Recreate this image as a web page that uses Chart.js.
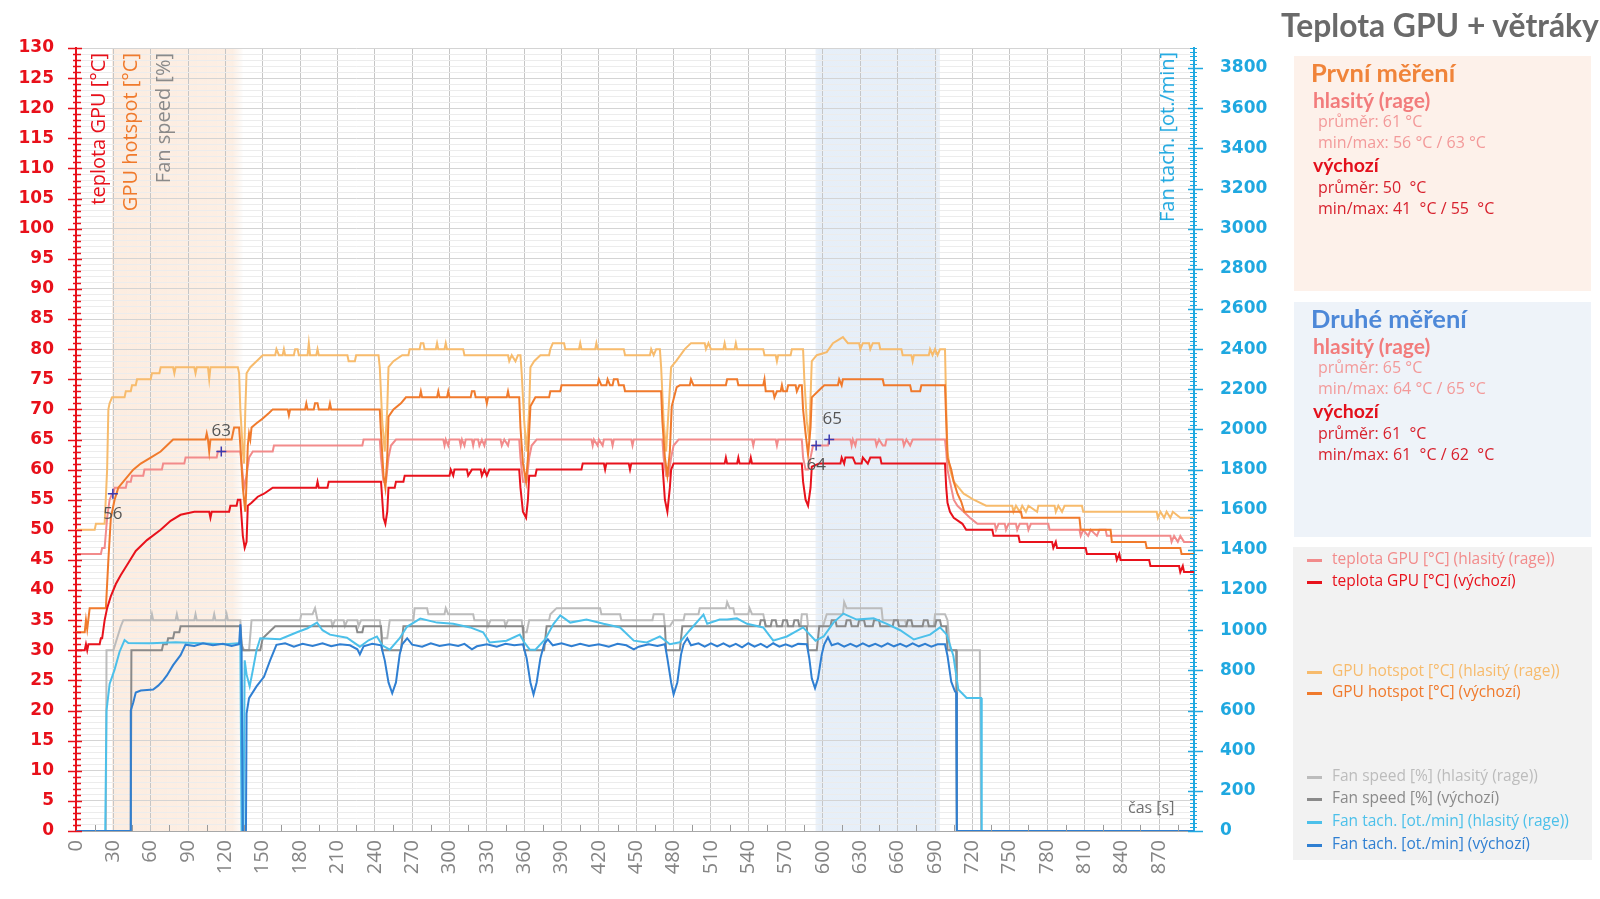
<!DOCTYPE html>
<html>
<head>
<meta charset="utf-8">
<script src="https://cdn.jsdelivr.net/npm/chart.js@4.4.0/dist/chart.umd.min.js"></script>
<style>
  body { margin: 0; background: #fff; }
  #wrap { position: relative; width: 1600px; height: 899px; overflow: hidden; }
  #c { position: absolute; left: 0; top: 0; }
  .t { position: absolute; white-space: pre; line-height: 1; font-family: Lato, "Open Sans", sans-serif; }
  .vt { position: absolute; white-space: nowrap; line-height: 1; writing-mode: vertical-rl; transform: rotate(180deg); font-family: "Open Sans", sans-serif; }
  .box { position: absolute; }
  .sw { position: absolute; height: 3px; width: 15px; }
</style>
</head>
<body>
<div id="wrap">
  <canvas id="c" width="1600" height="899"></canvas>
</div>
<script>
  // time axis [s]
  const timeMax = 898;
  const firstWindow = [29, 134];
  const secondWindow = [594, 694];

  // teplota GPU [°C] (hlasitý (rage)) — [t, °C]
  const tempRage = [
    [0,46],[20,46],[21,47],[23,47],[25,52],[27,55],[29,56],[30,56],[31,57],[40,57],[41,58],[44,58],[45,59],[54,59],[55,60],[69,60],[70,61],[87,61],[88,62],[113,62],[114,63],[132,63],
    [133,61],[135,57],[137,59],[139,62],[142,63],[158,63],[159,64],[230,64],[231,65],[244,65],
    [245,62],[247,58],[249,58],[251,62],[253,64],[257,65],[295,65],[296,64],[297,65],[299,64],[300,65],[308,65],[309,64],[310,65],[312,64],[313,65],[318,65],[319,64],[320,65],[323,65],[324,64],[326,65],[328,64],[329,65],[341,65],[342,64],[344,65],[347,64],[348,65],[356,65],
    [357,62],[359,58],[362,58],[364,62],[366,64],[370,65],[414,65],[415,64],[416,65],[419,64],[420,65],[423,64],[424,65],[430,65],[431,64],[432,65],[446,65],[447,64],[448,65],[471,65],
    [472,62],[474,59],[476,59],[478,62],[480,64],[484,65],[543,65],[544,64],[545,65],[562,65],[563,64],[564,65],[583,65],
    [584,62],[586,60],[588,60],[590,62],[592,64],[604,64],[605,65],[622,65],[623,64],[624,65],[626,64],[627,65],[642,65],[643,64],[645,65],[648,64],[650,64],[651,65],[664,65],[665,64],[667,65],[670,64],[672,65],[698,65],
    [699,63],[700,60],[702,58],[705,55],[708,54],[713,53],[718,52],[724,51],[738,51],[739,50],[741,51],[746,51],[747,50],[749,51],[755,51],[756,50],[758,51],[764,51],[765,50],[767,51],[781,51],[782,50],[806,50],[807,49],[809,50],[813,49],[815,50],[820,49],[822,50],[827,50],[828,49],[879,49],[880,48],[882,49],[885,48],[887,49],[890,48],[898,48]
  ];

  // teplota GPU [°C] (výchozí)
  const tempDefault = [
    [0,30],[7,30],[8,31],[9,30],[10,31],[19,31],[20,32],[21,32],[23,35],[25,37],[28,39],[32,41],[36,42.5],[42,44.5],[48,46.5],[57,48.3],[68,50],[76,51.5],[84,52.5],[95,53],[107,53],[108,52],[109,53],[123,53],[124,54],[129,54],[130,55],[132,55],
    [133,52],[134,49],[135.5,47],[137,48],[138,54],[141,54.5],[146,55.5],[151,56],[158,57],[193,57],[194,58],[195,57],[202,57],[203,58],[245,58],
    [246,55],[247,52],[248.5,51],[250,53],[251,57],[256,57],[257,58],[263,58],[264,59],[300,59],[301,60],[303,59],[304,60],[314,60],[315,59],[318,60],[325,60],[326,59],[328,60],[330,59],[332,60],[356,60],
    [357,57],[359,53],[361.5,52],[363,55],[364,59],[369,59],[370,60],[406,60],[407,61],[424,61],[425,60],[426,61],[444,61],[445,60],[446,61],[471,61],
    [472,58],[473,55],[475,53],[477,57],[478,60],[480,61],[521,61],[522,62],[523,61],[531,61],[532,62],[533,61],[541,61],[542,62],[543,61],[583,61],
    [584,58],[586,55],[588,54],[590,57],[591,60.5],[597,61],[614,61],[615,62],[617,61],[618,62],[624,62],[626,61],[631,61],[632,62],[636,61],[638,62],[646,62],[647,61],[698,61],
    [699,57],[700,54.5],[702,53],[705,52],[712,51],[715,50],[736,50],[737,49],[757,49],[758,48],[784,48],[785,47],[787,48],[788,47],[811,47],[812,46],[835,46],[836,45],[838,46],[839,45],[862,45],[863,44],[886,44],[887,43],[889,44],[890,43],[898,43]
  ];

  // GPU hotspot [°C] (hlasitý (rage))
  const hotRage = [
    [0,50],[15,50],[16,51],[23,51],[25,60],[26,70],[27,71],[29,72],[39,72],[40,73],[44,73],[45,74],[48,74],[49,75],[60,75],[61,76],[67,76],[68,77],[78,77],[79,76],[80,77],[95,77],[96,76],[97,77],[106,77],[107,75],[108,77],[130,77],
    [131,76],[132,70],[134,63],[135,61],[136,70],[137,76],[140,77],[145,78],[150,79],[160,79],[161,80],[163,79],[166,79],[167,80],[168,79],[175,79],[176,80],[178,80],[179,79],[186,79],[187,81],[188,79],[193,79],[194,80],[195,79],[218,79],[219,78],[224,78],[225,79],[243,79],
    [244,77],[246,68],[248,63],[250,70],[251,77],[255,78],[262,79],[267,79],[268,80],[276,80],[277,81],[279,81],[280,80],[289,80],[290,81],[291,80],[296,80],[297,81],[298,80],[311,80],[312,79],[347,79],[348,78],[350,79],[353,78],[355,79],[357,79],
    [358,76],[360,68],[362,63],[364,70],[365,77],[368,78],[373,79],[380,79],[381,80],[383,81],[392,81],[393,80],[404,80],[405,81],[406,80],[417,80],[418,81],[419,80],[440,80],[441,79],[461,79],[462,80],[464,79],[466,80],[469,80],
    [470,77],[472,68],[474,63],[476,70],[478,77],[482,78],[489,80],[494,81],[505,81],[506,80],[508,81],[510,80],[520,80],[521,81],[522,80],[529,80],[530,81],[531,80],[552,80],[553,79],[562,79],[563,78],[564,79],[574,79],[575,80],[584,80],
    [585,75],[587,68],[589,65],[590,72],[591,78],[595,79],[603,79.5],[608,81],[616,82],[620,81],[629,81],[630,80],[632,81],[637,81],[638,80],[640,81],[645,81],[646,80],[663,80],[664,79],[671,79],[672,78],[673,79],[685,79],[686,80],[688,79],[690,80],[692,79],[694,80],[698,80],
    [699,70],[700,63],[702,60],[705,58],[709,57],[713,56],[717,55.5],[721,55],[731,54],[752,54],[753,53],[755,54],[758,53],[760,54],[763,53],[765,54],[772,53],[773,54],[786,54],[787,53],[789,54],[792,53],[794,54],[808,54],[809,53],[868,53],[869,52],[871,53],[874,52],[876,53],[879,52],[881,53],[887,52],[898,52]
  ];

  // GPU hotspot [°C] (výchozí)
  const hotDefault = [
    [0,33],[7,33],[8,35],[9,33.5],[11,37],[24,37],[26,45],[28,52],[31,55],[34,57],[40,58.5],[46,60],[52,61],[60,62],[68,63],[73,64],[78,65],[104,65],[105,66],[106,65],[107,63],[108,65],[125,65],[126,66],[127,67],[131,67],
    [132,64],[134,57],[136,53],[137,58],[138,64],[139,66],[140,65],[141,67],[145,67.7],[150,68.5],[155,69.4],[158,70],[170,70],[171,69],[172,70],[184,70],[185,71],[186,70],[191,70],[192,71],[194,71],[195,70],[203,70],[204,71],[205,70],[244,70],
    [245,66],[247,59],[248.5,57],[250,62],[251,68.8],[255,70],[261,71],[265,72],[276,72],[277,73],[278,72],[290,72],[291,73],[292,72],[298,72],[299,73],[300,72],[317,72],[318,73],[320,73],[321,72],[329,72],[330,71],[331,72],[346,72],[347,73],[348,72],[356,72],
    [357,67],[359,61],[361.5,58],[363,62],[365,70.5],[369,72],[380,72],[381,73],[389,73],[390,74],[419,74],[420,75],[422,74],[426,74],[427,75],[429,74],[431,74],[432,75],[435,75],[436,74],[440,74],[441,73],[470,73],
    [471,68],[473,62],[475,59],[477,63],[478.5,70.5],[482.5,73.7],[485,74],[493,74],[494,75],[496,74],[522,74],[523,75],[531,75],[532,74],[552,74],[553,75],[554,73],[560,73],[561,72],[563,73],[566,73],[567,74],[568,73],[571,73],[572,74],[578,74],[579,73],[581,74],[583,74],
    [584,70],[586,66],[588,62.5],[590,67],[591,72],[596,73],[601,74],[612,74],[613,75],[615,74],[616,75],[648,75],[649,74],[670,74],[671,73],[678,73],[679,74],[698,74],
    [699,68],[700,62],[703,60],[705,58],[708,56],[711,54.7],[713.5,53],[759,53],[760,52],[806,52],[807,50],[831,50],[832,48],[859,48],[860,47],[887,47],[888,46],[898,46]
  ];

  // Fan speed [%] (hlasitý (rage))
  const fanRage = [
    [0,0],[24,0],[24.5,30],[30,30],[33,32],[36,34],[38,35],[60,35],[61,36],[62,35],[80,35],[81,36],[82,35],[95,35],[96,36],[97,35],[110,35],[111,36],[112,35],[120,35],[121,36],[122,35],[132,35],
    [133,31],[135,30],[139,30],[141,35],[180,35],[181,36],[190,36],[192,37],[193,36],[194,35],[205,35],[206,34],[208,35],[215,35],[216,34],[218,35],[226,35],[227,34],[229,35],[244,35],
    [246,32],[250,32],[252,35],[271,35],[272,37],[282,37],[283,36],[296,36],[297,37],[299,36],[319,36],[320,35],[330,35],[331,34],[333,35],[344,35],[345,34],[347,35],[358,35],
    [359,33],[362,33],[364,35],[380,35],[381,36],[386,37],[421,37],[422,36],[437,36],[438,35],[463,35],[464,36],[472,36],
    [473,34],[477,34],[480,35],[488,35],[489,36],[500,36],[501,37],[522,37],[523,38],[525,37],[528,37],[529,36],[540,36],[541,37],[543,36],[552,36],[554,34],[582,34],[583,36],[587,36],
    [588,34],[600,34],[603,36],[616,36],[617,38],[619,37],[647,37],[648,35],[666,35],[667,34],[689,34],[690,36],[698,36],[700,35],[702,30],[726,30],[727,0],[898,0]
  ];

  // Fan speed [%] (výchozí)
  const fanDefault = [
    [0,0],[44,0],[44.5,30],[69,30],[70,31],[73,31],[74,32],[78,32],[79,33],[83,33],[84,34],[132,34],
    [133,31],[134,30],[148,30],[150,32],[155,33],[160,34],[225,34],[226,33],[230,33],[231,34],[245,34],
    [246,30],[261,30],[263,34],[359,34],[360,30],[376,30],[378,34],[473,34],[474,30],[485,30],[487,34],
    [549,34],[550,35],[553,35],[554,34],[558,34],[559,35],[562,35],[563,34],[567,34],[568,35],[571,35],[572,34],[576,34],[577,35],[580,35],[581,34],[587,34],
    [588,30],[595,30],[597,34],[606,34],[607,35],[610,35],[611,34],[618,34],[619,35],[622,35],[623,34],[628,34],[629,35],[633,35],[634,34],[640,34],[641,35],[645,35],[646,34],[656,34],[657,35],[660,35],[661,34],[667,34],[668,35],[671,35],[672,34],[680,34],[681,35],[684,35],[685,34],[690,34],[691,35],[694,35],[695,34],[699,34],
    [700,30],[707,30],[707.5,0],[898,0]
  ];

  // Fan tach. [ot./min] (hlasitý (rage))
  const tachRage = [
    [0,0],[23.5,0],[24.5,600],[27,732],[31,804],[35,893],[39,951],[42,936],[60,935],[80,940],[100,935],[120,930],[132,936],
    [133,0],[134.5,0],[135.5,850],[137,780],[139.5,720],[142,800],[145,900],[148,960],[164,955],[177.5,990],[186,1010],[193.6,1038],[198,1000],[204,978],[217.6,963],[228,918],[235,950],[241.7,969],[246,925],
    [252,903],[260,960],[265.8,1017],[276.5,1058],[290,1038],[303,1032],[316.6,1014],[327,990],[332.3,939],[345.8,948],[356.5,978],[360,940],
    [364.5,903],[369,903],[376.9,955],[383.6,1032],[389,1074],[397,1038],[410,1053],[423.7,1032],[437,1014],[448,948],[458.5,939],[469,969],[477,930],
    [485,940],[493,1000],[504,1078],[507,1032],[517,1053],[523,1053],[530.8,1059],[539,1032],[552,1014],[560,948],[571,969],[584,1014],[594,948],
    [600.5,969],[608.4,1038],[616.4,1083],[627,1053],[640.6,1059],[651.3,1032],[662,1000],[673,954],[686,978],[694,1014],[699.4,978],
    [704.7,873],[708.7,705],[715.4,663],[727,663],[727.5,0],[898,0]
  ];

  // Fan tach. [ot./min] (výchozí)
  const tachDefault = [
    [0,0],[43.5,0],[44,600],[46,640],[48,690],[52,700],[62,705],[66,724],[70,750],[73,775],[78,826],[84,876],[88,928],[95,922],[102,935],[110,925],[118,932],[125,922],[131,930],[132,1030],[133,900],
    [134,0],[136.5,0],[137,585],[139,662],[145,720],[151,768],[156,851],[161,927],[168,935],[175,918],[182,932],[190,922],[198,935],[205,920],[212,930],[220,925],[226,905],[228,880],[231,920],[238,932],[245,925],
    [248,850],[251,740],[254,686],[257,740],[260,880],[262,930],[266,960],[270,928],[278,918],[285,935],[292,922],[300,930],[307,922],[312,932],[318,905],[322,920],[330,930],[338,918],[345,932],[352,925],[359,930],
    [362,860],[365,740],[367.5,680],[370,740],[373,860],[376,930],[379,955],[383,925],[390,935],[398,920],[405,932],[412,922],[420,930],[428,918],[435,932],[442,925],[448,905],[452,918],[460,930],[467,922],[473,930],
    [475,860],[478,740],[480,680],[483,740],[486,880],[488,930],[491,960],[494,925],[500,935],[505,918],[510,935],[515,920],[520,935],[525,918],[530,932],[535,915],[540,935],[545,918],[550,932],[555,915],[560,935],[565,918],[570,930],[575,918],[580,932],[587,930],
    [589,860],[591,760],[593.6,711],[596,760],[599,880],[601,930],[604,965],[607,925],[612,935],[617,918],[622,932],[627,918],[632,935],[637,920],[642,932],[647,918],[652,935],[657,920],[662,932],[667,918],[672,935],[677,920],[682,932],[687,918],[692,930],[698,930],
    [700,873],[703,744],[706,695],[707,690],[707.5,0],[898,0]
  ];

  // min / max marks of the "hlasitý" temperature inside both windows
  const markTimes = [29.6, 116.7, 594.5, 605];
  const markValues = [56, 63, 64, 65];

  const seriesLabels = [
    "teplota GPU [°C] (hlasitý (rage))", "teplota GPU [°C] (výchozí)",
    "GPU hotspot [°C] (hlasitý (rage))", "GPU hotspot [°C] (výchozí)",
    "Fan speed [%] (hlasitý (rage))", "Fan speed [%] (výchozí)",
    "Fan tach. [ot./min] (hlasitý (rage))", "Fan tach. [ot./min] (výchozí)"
  ];
  const seriesColors = ["#f28b8b", "#e8121c", "#f7bb6c", "#f07a2c", "#bcbcbc", "#8a8a8a", "#4cc0ea", "#2f7fd2"];

  const seriesData = [tempRage, tempDefault, hotRage, hotDefault, fanRage, fanDefault, tachRage, tachDefault];
  const seriesAxis = ["y", "y", "y", "y", "y", "y", "y2", "y2"];
  const drawOrder = [3, 1, 4, 2, 8, 7, 6, 5];

  const RED = "#e8101a", BLUE = "#1fa8e0";

  // background windows + axis ticks + mark labels
  const decor = {
    id: "decor",
    beforeDraw(chart) {
      const { ctx, chartArea: a, scales: { x } } = chart;
      ctx.save();
      let x0 = x.getPixelForValue(firstWindow[0]), x1 = x.getPixelForValue(firstWindow[1]);
      let g = ctx.createLinearGradient(x0, 0, x1, 0);
      g.addColorStop(0, "rgba(250,222,200,0.55)");
      g.addColorStop(0.92, "rgba(250,222,200,0.5)");
      g.addColorStop(1, "rgba(250,222,200,0.05)");
      ctx.fillStyle = g;
      ctx.fillRect(x0, a.top, x1 - x0, a.bottom - a.top);
      x0 = x.getPixelForValue(secondWindow[0]); x1 = x.getPixelForValue(secondWindow[1]);
      g = ctx.createLinearGradient(x0, 0, x1, 0);
      g.addColorStop(0, "rgba(214,228,244,0.45)");
      g.addColorStop(0.03, "rgba(214,228,244,0.6)");
      g.addColorStop(0.97, "rgba(214,228,244,0.6)");
      g.addColorStop(1, "rgba(214,228,244,0.4)");
      ctx.fillStyle = g;
      ctx.fillRect(x0, a.top, x1 - x0, a.bottom - a.top);
      ctx.restore();
    },
    afterDraw(chart) {
      const { ctx, chartArea: a, scales: { x, y, y2 } } = chart;
      ctx.save();
      ctx.lineWidth = 1.5;
      ctx.strokeStyle = RED;
      for (let v = 0; v <= 130; v++) {
        const py = Math.round(y.getPixelForValue(v)) + 0.5;
        ctx.beginPath();
        if (v % 5 === 0) { ctx.moveTo(a.left - 8, py); ctx.lineTo(a.left + 6, py); }
        else { ctx.moveTo(a.left - 3, py); ctx.lineTo(a.left + 5, py); }
        ctx.stroke();
      }
      ctx.strokeStyle = BLUE;
      for (let v = 0; v <= 3900; v += 20) {
        const py = Math.round(y2.getPixelForValue(v)) + 0.5;
        ctx.beginPath();
        if (v % 200 === 0) { ctx.lineWidth = 1.5; ctx.moveTo(a.right - 6, py); ctx.lineTo(a.right + 9, py); }
        else { ctx.lineWidth = 1; ctx.moveTo(a.right - 4, py); ctx.lineTo(a.right + 3, py); }
        ctx.stroke();
      }
      ctx.strokeStyle = "#9a9a9a";
      ctx.lineWidth = 1;
      for (let t = 15; t < timeMax; t += 30) {
        const px = Math.round(x.getPixelForValue(t)) + 0.5;
        ctx.beginPath(); ctx.moveTo(px, a.bottom - 6); ctx.lineTo(px, a.bottom); ctx.stroke();
      }
      ctx.fillStyle = "#555";
      ctx.font = "17px 'Open Sans', sans-serif";
      ctx.textAlign = "center";
      ctx.textBaseline = "middle";
      const below = [true, false, true, false];
      markTimes.forEach((t, i) => {
        const px = x.getPixelForValue(t), py = y.getPixelForValue(markValues[i]);
        ctx.fillText(String(markValues[i]), px + (i === 3 ? 3 : 0), below[i] ? py + 20 : py - 20);
      });
      ctx.restore();
    }
  };

  const datasets = seriesData.map((d, i) => ({
    label: seriesLabels[i],
    data: d,
    yAxisID: seriesAxis[i],
    borderColor: seriesColors[i],
    backgroundColor: seriesColors[i],
    borderWidth: 2,
    pointRadius: 0,
    order: drawOrder[i]
  }));
  datasets.push({
    label: "marks",
    data: markTimes.map((t, i) => [t, markValues[i]]),
    yAxisID: "y",
    showLine: false,
    pointStyle: "cross",
    pointRadius: 5,
    borderColor: "#3a3ab0",
    borderWidth: 1.5,
    order: 0
  });

  new Chart(document.getElementById("c"), {
    type: "line",
    data: { datasets },
    options: {
      responsive: false,
      animation: false,
      layout: { padding: { top: 48, right: 316, left: 0, bottom: 0 } },
      plugins: { legend: { display: false }, tooltip: { enabled: false } },
      elements: { line: { tension: 0 } },
      scales: {
        x: {
          type: "linear", min: 0, max: timeMax,
          afterFit: s => { s.height = 68; },
          ticks: {
            stepSize: 15, autoSkip: false, minRotation: 90, maxRotation: 90, padding: 9,
            color: "#858585", font: { family: "'Open Sans', sans-serif", size: 20 },
            callback: v => (v % 30 === 0 ? v : "")
          },
          grid: { drawTicks: false, color: c => (c.tick && c.tick.value % 30 === 0 ? "#c6c6c6" : "rgba(0,0,0,0)") },
          border: { color: "#a8a8a8" }
        },
        y: {
          min: 0, max: 130,
          afterFit: s => { s.width = 76; },
          ticks: {
            stepSize: 1, autoSkip: false, padding: 22, color: RED,
            font: { family: "'DejaVu Sans', sans-serif", size: 17, weight: "bold" },
            callback: v => (v % 5 === 0 ? v : "")
          },
          grid: { drawTicks: false, color: c => (c.tick && c.tick.value % 5 === 0 ? "#d4d4d4" : "#ececec") },
          border: { color: RED, width: 2 }
        },
        y2: {
          position: "right", min: 0, max: 3900,
          afterFit: s => { s.width = 90; },
          ticks: {
            stepSize: 200, autoSkip: false, padding: 26, color: BLUE,
            font: { family: "'DejaVu Sans', sans-serif", size: 17, weight: "bold" },
            callback: v => (v % 200 === 0 ? v : "")
          },
          grid: { drawOnChartArea: false, drawTicks: false },
          border: { color: BLUE, width: 2 }
        }
      }
    },
    plugins: [decor]
  });

  // ---- text outside the plot: title, summary panels, legend, axis titles
  const wrap = document.getElementById("wrap");
  const SANS = "'Open Sans', sans-serif";
  function put(text, x, base, size, color, weight, family) {
    const d = document.createElement("div");
    d.className = "t";
    d.textContent = text;
    d.style.left = x + "px";
    d.style.top = (base - 0.888 * size) + "px";
    d.style.fontSize = size + "px";
    d.style.color = color;
    d.style.fontWeight = weight || "normal";
    if (family) d.style.fontFamily = family;
    wrap.appendChild(d);
    return d;
  }
  function box(x, y, w, h, bg) {
    const d = document.createElement("div");
    d.className = "box";
    Object.assign(d.style, { left: x + "px", top: y + "px", width: w + "px", height: h + "px", background: bg });
    wrap.appendChild(d);
  }
  function vtitle(text, cx, top, size, color) {
    const d = document.createElement("div");
    d.className = "vt";
    d.textContent = text;
    Object.assign(d.style, { left: (cx - size / 2) + "px", top: top + "px", fontSize: size + "px", color });
    wrap.appendChild(d);
  }

  put("Teplota GPU + větráky", 1281, 38, 31.8, "#6a6a6a", "bold");

  const panels = [
    { y: 56, h: 235, bg: "#fdf1ea", title: "První měření", tc: "#f0843a",
      rage: ["průměr: 61 °C", "min/max: 56 °C / 63 °C"], def: ["průměr: 50  °C", "min/max: 41  °C / 55  °C"] },
    { y: 302, h: 235, bg: "#eef3f9", title: "Druhé měření", tc: "#4d88d8",
      rage: ["průměr: 65 °C", "min/max: 64 °C / 65 °C"], def: ["průměr: 61  °C", "min/max: 61  °C / 62  °C"] }
  ];
  panels.forEach(p => {
    box(1294, p.y, 297, p.h, p.bg);
    const b = p.y + 27;
    put(p.title, 1311, b, 25.5, p.tc, "bold");
    put("hlasitý (rage)", 1313, b + 25, 21, "#f27c7c", "bold");
    put(p.rage[0], 1318, b + 44, 16, "#f39a9a", "normal", SANS);
    put(p.rage[1], 1318, b + 65, 16, "#f39a9a", "normal", SANS);
    put("výchozí", 1313, b + 89, 19.5, "#e3101c", "bold");
    put(p.def[0], 1318, b + 110, 16, "#d8222e", "normal", SANS);
    put(p.def[1], 1318, b + 131, 16, "#d8222e", "normal", SANS);
  });

  box(1293, 547, 299, 313, "#f2f2f2");
  const legendRows = [565, 587, 677, 698, 782, 804, 827, 850];
  seriesLabels.forEach((lab, i) => {
    const s = document.createElement("div");
    s.className = "sw";
    Object.assign(s.style, { left: "1307px", top: (legendRows[i] - 6) + "px", background: seriesColors[i] });
    wrap.appendChild(s);
    put(lab, 1332, legendRows[i], 15.5, seriesColors[i], "normal", SANS);
  });

  vtitle("teplota GPU [°C]", 98, 53, 20, RED);
  vtitle("GPU hotspot [°C]", 130, 53, 20, "#f07a2c");
  vtitle("Fan speed [%]", 163, 53, 20, "#8a8a8a");
  vtitle("Fan tach. [ot./min]", 1167, 52, 20, BLUE);
  put("čas [s]", 1128, 813, 16, "#707070", "normal", SANS);
</script>
</body>
</html>
